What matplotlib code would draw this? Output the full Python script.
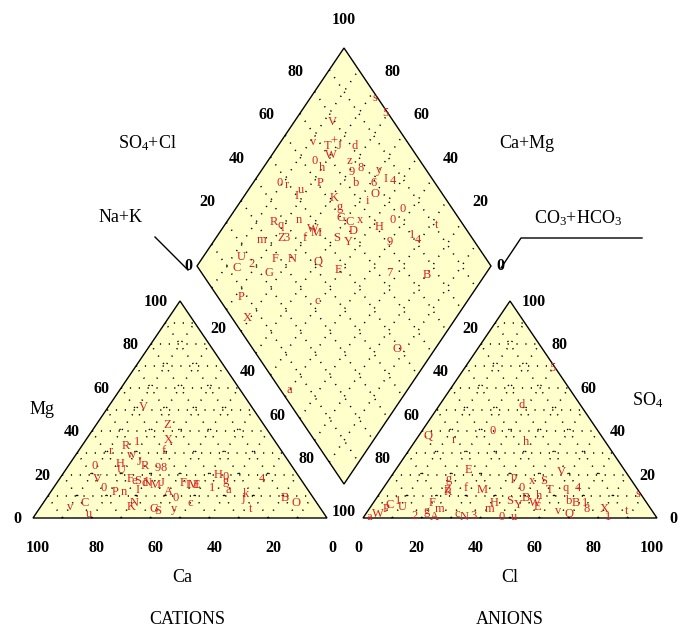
import matplotlib
matplotlib.use("Agg")
import matplotlib.pyplot as plt
from matplotlib.patches import Polygon

plt.rcParams['font.family'] = ['Liberation Serif', 'DejaVu Serif']
plt.rcParams['mathtext.fontset'] = 'custom'
plt.rcParams['mathtext.rm'] = 'Liberation Serif'
plt.rcParams['mathtext.default'] = 'regular'

# ---------------- data (percent) ----------------
# cation triangle: label, Ca %, Mg %  (Na+K = 100 - Ca - Mg)
cat_labels = ['V', 'Z', 'X', 'f', 'R', '1', 'r', 'w', 'J', 'R', '0', 'H', 'U', '9', '8',
              'V', '0', 'P', 'n', 'F', 'e', 'S', 'd', 'N', 'M', 'J', 'I', 'A', '0', 'c',
              'F', 'I', 'M', 'E', '1', 'H', '0', 'g', 'a', '4', 'k', 'j', 't', 'B', 'O',
              'N', 'K', 'G', 'S', 'y', 'v', 'C', 'u']
cat_ca = [37, 33, 36, 40, 52, 47, 58, 52, 51, 50, 67, 58, 59, 46, 44,
          69, 69, 66, 63, 58, 57, 56, 54, 53, 51, 48, 58, 48, 47, 43,
          41, 40, 38, 37, 32, 27, 25, 26, 27, 13, 22, 24, 24, 10, 7,
          62, 64, 57, 56, 50, 85, 79, 80]
cat_mg = [51, 43, 36, 31, 33, 35, 31, 29, 26, 24, 24, 25, 22, 23, 23,
          18, 14, 12, 12, 18, 17, 17, 16, 16, 15, 16, 13, 12, 9, 7,
          16, 15, 15, 15, 14, 20, 19, 17, 13, 18, 11, 9, 4, 9, 7,
          7, 5, 4, 3, 4, 5, 7, 2]

# anion triangle: label, Cl %, SO4 %  (CO3+HCO3 = 100 - Cl - SO4)
an_labels = ['5', 'd', '0', 'Q', 'r', 'h', 'E', 'V', 'g', 'p', '0', 'x', 'S', 'T', 'q',
             '4', 'f', 'M', 'R', 'Z', 'C', 'U', '1', 'F', 'm', 'H', 'm', 'S', 'Y', 'B',
             'h', 'E', 'W', 'b', 'B', '1', 'v', 'Q', '8', 'X', '1', 't', 's', 'a', 'W',
             'P', '2', 'g', 'A', 'c', 'N', '3', '0', 'u']
an_cl = [30, 28, 24, 3, 13, 38, 25, 57, 20, 42, 47, 49, 53, 57, 62,
         66, 28, 34, 23, 22, 6, 11, 8, 20, 24, 41, 41, 46, 50, 51,
         55, 57, 55, 66, 69, 72, 65, 69, 74, 80, 83, 88, 88, 2, 4,
         6, 17, 20, 24, 31, 34, 37, 47, 51]
an_so4 = [69, 52, 40, 38, 36, 35, 22, 21, 18, 19, 14, 17, 17, 13, 14,
          14, 14, 13, 12, 13, 6, 5, 8, 7, 4, 7, 4, 8, 6, 9,
          10, 5, 7, 8, 7, 7, 3, 2, 4, 4, 0.5, 3, 11, 0.5, 2,
          4, 1, 3, 0.5, 2, 0.5, 1, 0.5, 0.5]

# diamond: label, SO4+Cl %, Na+K %
dia_labels = ['s', '5', 'V', 'v', '+', 'T', 'J', 'W', 'd', '0', 'h', 'z', '9', '8', 'y',
              'I', '4', 'b', '6', '0', 'r', 'P', 'u', 'I', 'O', 'i', 'K', '0', 'g', 'G',
              'C', 'x', 'H', '0', 't', 'R', 'q', 'n', 'M', 'W', 'f', 'Z', '3', 'm', 'S',
              'D', 'Y', '9', '1', '4', 'U', 'C', '2', 'F', 'G', 'N', 'Q', 'E', '7', 'B',
              'P', 'c', 'X', 'O', 'a']
dia_so4cl = [99, 99, 79, 68, 75, 72, 76, 71, 81, 64, 65, 76, 74, 78, 84,
             84, 86, 73, 79, 47, 49, 61, 53, 50, 77, 73, 62, 83, 62, 60,
             62, 66, 71, 77, 91, 36, 38, 45, 48, 48, 43, 35, 37, 28, 54,
             61, 57, 71, 80, 81, 17, 13, 19, 28, 23, 34, 42, 47, 64, 76,
             8, 33, 5, 49, 3]
dia_nak = [22, 29, 13, 11, 18, 17, 21, 20, 26, 16, 20, 28, 31, 33, 40,
           44, 47, 35, 41, 9, 12, 23, 18, 18, 44, 43, 31, 57, 35, 38,
           42, 45, 53, 56, 72, 16, 19, 24, 33, 31, 30, 22, 24, 16, 41,
           45, 46, 60, 66, 69, 13, 14, 18, 25, 26, 31, 40, 49, 67, 80,
           22, 49, 29, 87, 60]

ticks = [0, 20, 40, 60, 80, 100]

# ---------------- geometry (pixel layout) ----------------
BASE, W, H = 518.0, 294.0, 217.0
LX, RX = 33.0, 363.0
DL, DT, DR, DB = (197.0, 266.0), (344.0, 48.0), (491.0, 266.0), (344.0, 484.0)
FILL = '#ffffcc'
RED = '#d82020'


def tri(ox, fr, ft):
    return ox + W * (fr + ft / 2.0), BASE - H * ft


def dia(a, b):
    x = DL[0] + (DT[0] - DL[0]) * a + (DB[0] - DL[0]) * b
    y = DL[1] + (DT[1] - DL[1]) * a + (DB[1] - DL[1]) * b
    return x, y


fig = plt.figure(figsize=(6.79, 6.29), dpi=100)
ax = fig.add_axes([0, 0, 1, 1])
ax.set_xlim(0, 679)
ax.set_ylim(629, 0)
ax.axis('off')

dot = dict(color='black', lw=1.1, linestyle=(0, (0.8, 5.0)), zorder=2)

for ox in (LX, RX):
    pts = [tri(ox, 0, 0), tri(ox, 1, 0), tri(ox, 0, 1)]
    ax.add_patch(Polygon(pts, closed=True, facecolor=FILL, edgecolor='black', lw=1.0, zorder=1))
    for k in range(1, 10):
        f = k / 10.0
        for p, q in [((0, f), (1 - f, f)), ((f, 0), (f, 1 - f)), ((1 - f, 0), (0, 1 - f))]:
            x0, y0 = tri(ox, *p)
            x1, y1 = tri(ox, *q)
            ax.plot([x0, x1], [y0, y1], **dot)

ax.add_patch(Polygon([DL, DT, DR, DB], closed=True, facecolor=FILL, edgecolor='black', lw=1.0, zorder=1))
for k in range(1, 10):
    f = k / 10.0
    for p, q in [((f, 0), (f, 1)), ((0, f), (1, f))]:
        x0, y0 = dia(*p)
        x1, y1 = dia(*q)
        ax.plot([x0, x1], [y0, y1], **dot)

# ---------------- tick labels ----------------
tk = dict(fontsize=11.5, fontweight='bold', color='black', va='center', zorder=5)
for t in ticks:
    f = t / 100.0
    # Mg on left edge of cation triangle
    x, y = tri(LX, 0, f)
    ax.text(x - 12, y + 1, str(t), ha='right', **tk)
    # SO4 on right edge of anion triangle
    x, y = tri(RX, 1 - f, f)
    ax.text(x + 12, y + 1, str(t), ha='left', **tk)
    # Ca along base of cation triangle
    x, y = tri(LX, 1 - f, 0)
    ax.text(x + 5, 548, str(t), ha='center', **tk)
    # Cl along base of anion triangle
    x, y = tri(RX, f, 0)
    ax.text(x - 5, 548, str(t), ha='center', **tk)

for t in ticks[1:-1]:
    f = t / 100.0
    # SO4+Cl (upper-left edge)
    x, y = dia(f, 0)
    ax.text(x - 19, y - 20, str(t), ha='center', **tk)
    # Ca+Mg (upper-right edge)
    x, y = dia(1, 1 - f)
    ax.text(x + 19, y - 20, str(t), ha='center', **tk)
    # Na+K (lower-left edge)
    x, y = dia(0, f)
    ax.text(x - 8, y + 19, str(t), ha='center', **tk)
    # CO3+HCO3 (lower-right edge)
    x, y = dia(1 - f, 1)
    ax.text(x + 9, y + 19, str(t), ha='center', **tk)

ax.text(DL[0] - 9, DL[1], '0', ha='center', **tk)
ax.text(DR[0] + 9, DR[1], '0', ha='center', **tk)
ax.text(DT[0], DT[1] - 28, '100', ha='center', **tk)
ax.text(DB[0], DB[1] + 28, '100', ha='center', **tk)

# ---------------- axis titles ----------------
tt = dict(fontsize=13, color='black', ha='center', va='center', zorder=5)
ax.text(147, 143, r'SO$_4$+Cl', **tt)
ax.text(527, 143, 'Ca+Mg', **tt)
ax.text(121, 218, 'Na+K', **tt)
ax.text(578, 218, r'CO$_3$+HCO$_3$', **tt)
ax.text(42, 410, 'Mg', **tt)
ax.text(648, 400, r'SO$_4$', **tt)
ax.text(182, 578, 'Ca', **tt)
ax.text(510, 578, 'Cl', **tt)
ax.text(187, 620, 'CATIONS', **tt)
ax.text(510, 620, 'ANIONS', **tt)

ax.plot([155, 188], [237, 270], color='black', lw=1.0)
ax.plot([501, 521, 642], [268, 238, 238], color='black', lw=1.0)

# ---------------- sample labels ----------------
mk = dict(fontsize=9, color=RED, ha='center', va='center', zorder=6)
for lab, ca, mg in zip(cat_labels, cat_ca, cat_mg):
    x, y = tri(LX, (100 - ca - mg) / 100.0, mg / 100.0)
    ax.text(x, y, lab, **mk)
for lab, cl, so4 in zip(an_labels, an_cl, an_so4):
    x, y = tri(RX, cl / 100.0, so4 / 100.0)
    ax.text(x, y, lab, **mk)
for lab, a, b in zip(dia_labels, dia_so4cl, dia_nak):
    x, y = dia(a / 100.0, b / 100.0)
    ax.text(x, y, lab, **mk)

fig.savefig('out.png', dpi=100)
